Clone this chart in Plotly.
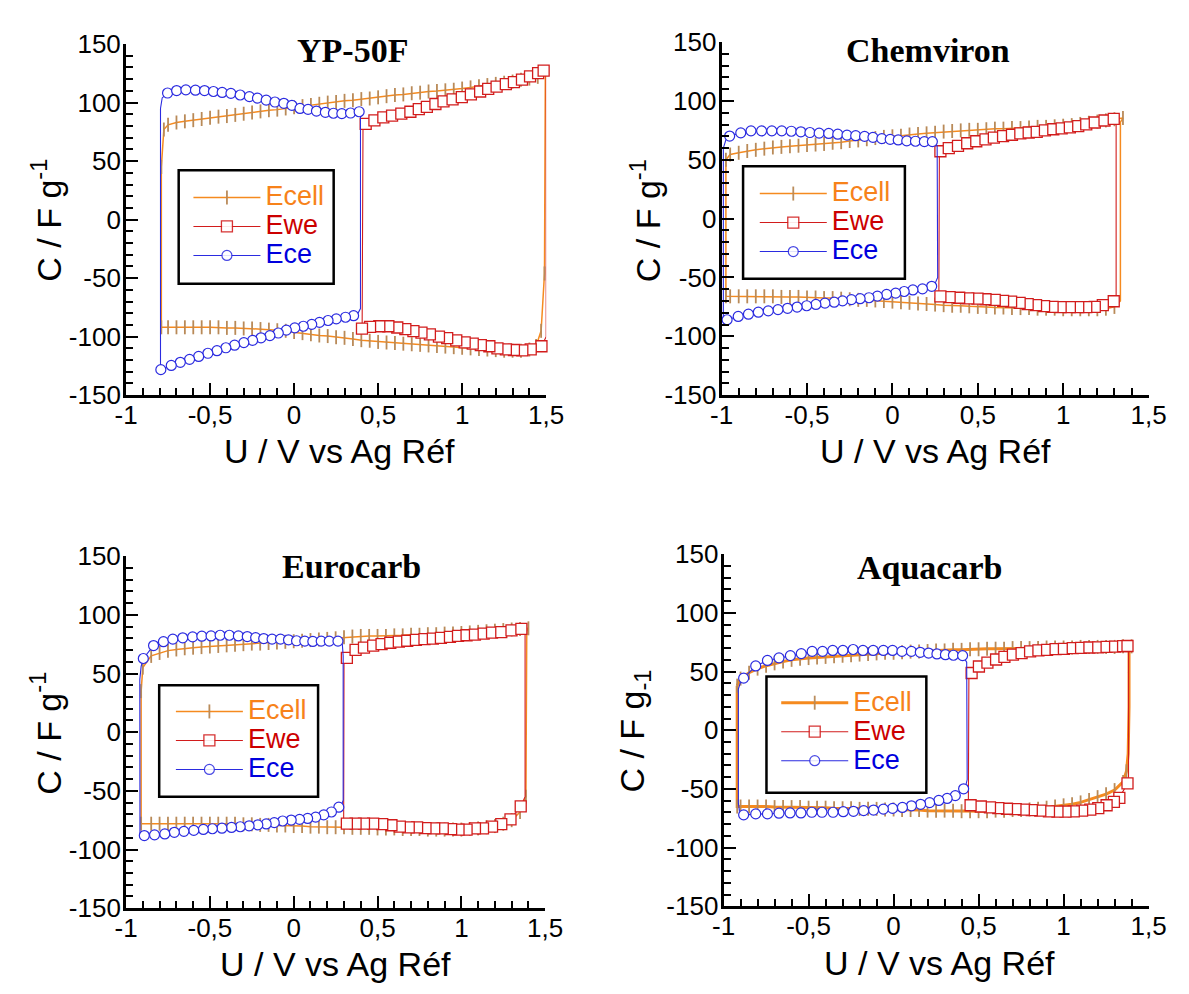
import plotly.graph_objects as go

W, H = 1189, 994
SANS = "Arial, Liberation Sans, sans-serif"
SERIF = "Times New Roman, Liberation Serif, serif"

# ---------------- labels ----------------
panel_titles = ["YP-50F", "Chemviron", "Eurocarb", "Aquacarb"]
series_names = ["Ecell", "Ewe", "Ece"]
x_tick_vals = [-1, -0.5, 0, 0.5, 1, 1.5]
x_tick_text = ["-1", "-0,5", "0", "0,5", "1", "1,5"]
y_tick_vals = [-150, -100, -50, 0, 50, 100, 150]
y_tick_text = ["-150", "-100", "-50", "0", "50", "100", "150"]
x_title = "U / V vs Ag Réf"
y_titles = ["C / F g<sup>-1</sup>", "C / F g<sup>-1</sup>", "C / F g<sup>-1</sup>", "C / F g<sub>-1</sub>"]

# ================= YP-50F =================
yp_ecell_up_x = [-0.79, -0.775, -0.75, -0.70, -0.65, -0.60, -0.55, -0.50, -0.45, -0.40, -0.35, -0.30, -0.25, -0.20, -0.15,
                 -0.10, -0.05, 0.00, 0.05, 0.10, 0.15, 0.20, 0.25, 0.30, 0.35, 0.40, 0.45, 0.50, 0.55, 0.60, 0.65,
                 0.70, 0.75, 0.80, 0.85, 0.90, 0.95, 1.00, 1.05, 1.10, 1.15, 1.20, 1.25, 1.30, 1.35, 1.40, 1.45]
yp_ecell_up_y = [45, 77, 81, 83, 84, 85, 86, 87, 88, 88.5, 89.5, 90.5, 91.5, 92.5, 93.5,
                 94, 95, 96, 97, 98, 99, 100, 100.5, 101.5, 102, 103, 103.5, 104.5, 105.5, 106.5, 107,
                 108, 108.5, 109.5, 110, 110.5, 111, 112, 113, 114, 115, 116, 117, 118, 119.5, 120.5, 122]
yp_ecell_r_x = [1.495]
yp_ecell_r_y = [124]
yp_ecell_dn_x = [-0.79, -0.75, -0.70, -0.65, -0.60, -0.55, -0.50, -0.45, -0.40, -0.35, -0.30, -0.25, -0.20, -0.15,
                 -0.10, -0.05, 0.00, 0.05, 0.10, 0.15, 0.20, 0.25, 0.30, 0.35, 0.40, 0.45, 0.50, 0.55, 0.60, 0.65,
                 0.70, 0.75, 0.80, 0.85, 0.90, 0.95, 1.00, 1.05, 1.10, 1.15, 1.20, 1.25, 1.30, 1.35, 1.40, 1.44, 1.47, 1.49]
yp_ecell_dn_y = [-92, -92, -92, -92, -92, -92, -92, -92, -92.5, -92.5, -93, -93, -93.5, -94,
                 -94.5, -95, -96, -97, -98, -99, -99.5, -100.5, -101, -102, -103, -103.5, -104.5, -105, -105.5, -106,
                 -106.5, -107, -107.5, -108, -108.5, -109, -109.5, -110, -110.5, -111, -111.5, -112, -112, -112, -111, -108, -95, -46]
yp_ecell_l_x = []
yp_ecell_l_y = []

yp_ewe_up_x = [0.426, 0.478, 0.531, 0.583, 0.638, 0.692, 0.742, 0.790, 0.841, 0.889, 0.943, 0.998, 1.052, 1.107,
               1.155, 1.205, 1.260, 1.308, 1.356, 1.404, 1.452, 1.485]
yp_ewe_up_y = [81.8, 84.8, 87.3, 88.9, 90.6, 92.2, 94.4, 96.3, 98.8, 101.0, 102.7, 104.6, 107.1, 109.5,
               111.7, 113.6, 115.8, 117.5, 119.7, 122.4, 125.2, 127.4]
yp_ewe_r_x = [1.50, 1.50]
yp_ewe_r_y = [124, -100]
yp_ewe_dn_x = [0.404, 0.452, 0.507, 0.561, 0.614, 0.662, 0.710, 0.758, 0.808, 0.862, 0.911, 0.965, 1.015, 1.063,
               1.111, 1.162, 1.210, 1.260, 1.308, 1.358, 1.408, 1.472]
yp_ewe_dn_y = [-93.1, -91.7, -91.1, -91.1, -92.2, -93.6, -95.3, -96.6, -98.0, -99.9, -101.3, -103.2, -104.9, -106.0,
               -107.3, -108.2, -110.1, -110.9, -111.4, -111.7, -110.9, -108.2]
yp_ewe_l_x = [0.405, 0.41]
yp_ewe_l_y = [-88, 78]

yp_ece_up_x = [-0.753, -0.699, -0.644, -0.587, -0.533, -0.480, -0.428, -0.376, -0.321, -0.266, -0.218, -0.166,
               -0.114, -0.061, -0.013, 0.035, 0.083, 0.133, 0.186, 0.234, 0.284, 0.336, 0.387]
yp_ece_up_y = [108.2, 110.3, 110.9, 110.6, 110.3, 109.5, 108.7, 107.9, 106.5, 105.1, 103.8, 102.1,
               100.5, 99.4, 97.7, 95.0, 94.2, 92.8, 91.7, 90.9, 90.6, 91.1, 92.2]
yp_ece_r_x = [0.395, 0.395, 0.38]
yp_ece_r_y = [88, -76, -80]
yp_ece_dn_x = [-0.793, -0.731, -0.677, -0.622, -0.568, -0.513, -0.459, -0.406, -0.354, -0.299, -0.247, -0.197,
               -0.144, -0.094, -0.046, 0.004, 0.055, 0.105, 0.151, 0.202, 0.251, 0.306, 0.354]
yp_ece_dn_y = [-128.2, -124.6, -121.9, -119.4, -116.9, -114.2, -112.0, -109.5, -107.3, -105.1, -103.2, -101.0,
               -99.1, -96.9, -94.4, -92.5, -91.1, -89.5, -87.8, -86.2, -84.8, -83.4, -82.1]
yp_ece_l_x = [-0.795, -0.795, -0.785]
yp_ece_l_y = [-124, 95, 104]

# ================= Chemviron =================
cv_ecell_up_x = [-0.975, -0.95, -0.90, -0.85, -0.80, -0.75, -0.70, -0.65, -0.60, -0.55, -0.50, -0.45, -0.40, -0.35,
                 -0.30, -0.25, -0.20, -0.15, -0.10, -0.05, 0.00, 0.05, 0.10, 0.15, 0.20, 0.25, 0.30, 0.35, 0.40,
                 0.45, 0.50, 0.55, 0.60, 0.65, 0.70, 0.75, 0.80, 0.85, 0.90, 0.95, 1.00, 1.05, 1.10, 1.15, 1.20,
                 1.25, 1.30, 1.35]
cv_ecell_up_y = [50, 54.5, 56, 57.5, 58.5, 59.5, 60.5, 61, 61.5, 62, 62.5, 63, 63.5, 64.5,
                 65, 66, 66.5, 67.5, 68.5, 69.5, 70, 70.5, 71.5, 72, 72.5, 73, 74, 74.5, 75,
                 75.5, 75.5, 76, 76.5, 76.5, 77, 77, 77.5, 78, 78, 78.5, 79, 79.5, 80.5, 81.5, 82.5,
                 83.5, 84.5, 85.5]
cv_ecell_r_x = [1.335, 1.335]
cv_ecell_r_y = [82, -70]
cv_ecell_dn_x = [-0.975, -0.95, -0.90, -0.85, -0.80, -0.75, -0.70, -0.65, -0.60, -0.55, -0.50, -0.45, -0.40, -0.35,
                 -0.30, -0.25, -0.20, -0.15, -0.10, -0.05, 0.00, 0.05, 0.10, 0.15, 0.20, 0.25, 0.30, 0.35, 0.40,
                 0.45, 0.50, 0.55, 0.60, 0.65, 0.70, 0.75, 0.80, 0.85, 0.90, 0.95, 1.00, 1.05, 1.10, 1.15, 1.20,
                 1.25, 1.30]
cv_ecell_dn_y = [-66, -66, -66, -66, -66, -66, -66, -66.5, -66.5, -66.5, -67, -67, -67.5, -67.5,
                 -68, -68.5, -69, -69, -69.5, -70, -70.5, -71, -71.5, -72, -72.5, -73, -73.5, -74, -74,
                 -74.5, -75, -75, -75.5, -75.5, -76, -76, -76, -76.5, -76.5, -76.5, -77, -77, -77, -77, -77,
                 -76.5, -75]
cv_ecell_l_x = []
cv_ecell_l_y = []

cv_ewe_up_x = [0.281, 0.330, 0.384, 0.438, 0.491, 0.545, 0.594, 0.648, 0.700, 0.749, 0.798, 0.845, 0.893, 0.942,
               0.991, 1.039, 1.088, 1.135, 1.185, 1.242, 1.296]
cv_ewe_up_y = [57.3, 60.0, 61.9, 64.1, 65.8, 67.4, 68.8, 70.2, 71.3, 72.4, 73.2, 73.8, 75.1, 76.0,
               76.8, 77.6, 78.7, 80.1, 81.7, 83.4, 84.8]
cv_ewe_r_x = [1.31, 1.31]
cv_ewe_r_y = [82, -67]
cv_ewe_dn_x = [0.281, 0.335, 0.391, 0.444, 0.498, 0.545, 0.599, 0.648, 0.695, 0.745, 0.792, 0.841, 0.888, 0.938,
               0.985, 1.039, 1.088, 1.135, 1.185, 1.232, 1.296]
cv_ewe_dn_y = [-66.1, -66.6, -67.2, -67.7, -68.0, -68.5, -69.1, -69.9, -70.5, -71.6, -72.7, -73.5, -74.3, -74.9,
               -75.1, -75.1, -75.1, -75.1, -74.9, -73.5, -70.2]
cv_ewe_l_x = [0.272, 0.275]
cv_ewe_l_y = [-62, 54]

cv_ece_up_x = [-0.953, -0.888, -0.828, -0.766, -0.706, -0.648, -0.592, -0.536, -0.483, -0.429, -0.373, -0.320,
               -0.266, -0.215, -0.163, -0.114, -0.062, -0.013, 0.034, 0.084, 0.135, 0.187, 0.234]
cv_ece_up_y = [70.2, 72.9, 74.6, 74.6, 74.6, 74.6, 74.3, 73.8, 73.2, 72.7, 72.4, 71.8,
               71.0, 70.5, 69.9, 69.1, 68.0, 67.4, 66.9, 66.1, 65.8, 65.5, 65.5]
cv_ece_r_x = [0.262, 0.265, 0.25]
cv_ece_r_y = [62, -50, -55]
cv_ece_dn_x = [-0.968, -0.903, -0.843, -0.785, -0.727, -0.670, -0.614, -0.558, -0.502, -0.448, -0.395, -0.341,
               -0.292, -0.240, -0.189, -0.137, -0.088, -0.034, 0.019, 0.069, 0.120, 0.176, 0.230]
cv_ece_dn_y = [-85.9, -83.1, -81.2, -79.5, -78.4, -77.3, -76.2, -75.1, -74.0, -72.9, -71.8, -71.0,
               -69.9, -68.8, -68.0, -67.2, -65.8, -64.4, -63.3, -61.9, -60.6, -59.7, -57.5]
cv_ece_l_x = [-0.99, -0.99, -0.975]
cv_ece_l_y = [-84, 60, 67]

# ================= Eurocarb =================
ec_ecell_up_x = [-0.91, -0.90, -0.85, -0.80, -0.75, -0.70, -0.65, -0.60, -0.55, -0.50, -0.45, -0.40, -0.35, -0.30,
                 -0.25, -0.20, -0.15, -0.10, -0.05, 0.00, 0.05, 0.10, 0.15, 0.20, 0.25, 0.30, 0.35, 0.40, 0.45,
                 0.50, 0.55, 0.60, 0.65, 0.70, 0.75, 0.80, 0.85, 0.90, 0.95, 1.00, 1.05, 1.10, 1.15, 1.20, 1.25,
                 1.30, 1.35, 1.40]
ec_ecell_up_y = [35, 55, 65, 67.5, 69.5, 70.5, 71.5, 72, 72.5, 73, 73.5, 74, 74.5, 75,
                 75.5, 75.5, 76, 76.5, 77, 77.5, 78, 78.5, 79, 79.5, 80, 81, 81.5, 82, 82,
                 82, 82, 82.5, 82.5, 83, 83, 83.5, 83.5, 84, 84, 84.5, 85, 85.5, 86, 86.5, 87,
                 87.5, 88, 88.5]
ec_ecell_r_x = [1.39]
ec_ecell_r_y = [86]
ec_ecell_dn_x = [-0.91, -0.85, -0.80, -0.75, -0.70, -0.65, -0.60, -0.55, -0.50, -0.45, -0.40, -0.35, -0.30,
                 -0.25, -0.20, -0.15, -0.10, -0.05, 0.00, 0.05, 0.10, 0.15, 0.20, 0.25, 0.30, 0.35, 0.40, 0.45,
                 0.50, 0.55, 0.60, 0.65, 0.70, 0.75, 0.80, 0.85, 0.90, 0.95, 1.00, 1.05, 1.10, 1.15, 1.20, 1.25,
                 1.30, 1.35, 1.385]
ec_ecell_dn_y = [-78, -78, -78, -78, -78, -78, -78, -78, -78, -78, -78, -78, -78.5,
                 -78.5, -79, -79, -79.5, -79.5, -80, -80, -80.5, -80.5, -81, -81, -81, -81.5, -81.5, -81.5,
                 -82, -82, -82, -82.5, -82.5, -82.5, -83, -83, -83, -83, -83, -82.5, -82, -81, -80, -78,
                 -75, -68, -55]
ec_ecell_l_x = []
ec_ecell_l_y = []

ec_ewe_up_x = [0.317, 0.369, 0.419, 0.474, 0.524, 0.576, 0.627, 0.677, 0.729, 0.780, 0.830, 0.878, 0.932, 0.980,
               1.031, 1.081, 1.133, 1.183, 1.238, 1.299, 1.358]
ec_ewe_up_y = [63.3, 70.2, 72.1, 73.8, 75.1, 76.2, 77.1, 77.9, 78.7, 79.3, 79.8, 80.4, 81.2, 82.0,
               82.6, 83.1, 84.0, 84.8, 85.3, 86.7, 88.1]
ec_ewe_r_x = [1.38, 1.38]
ec_ewe_r_y = [86, -55]
ec_ewe_dn_x = [0.317, 0.369, 0.419, 0.474, 0.528, 0.583, 0.633, 0.686, 0.736, 0.786, 0.838, 0.889, 0.939, 0.983,
               1.031, 1.081, 1.129, 1.183, 1.238, 1.293, 1.354]
ec_ewe_dn_y = [-77.9, -77.9, -77.9, -77.9, -78.4, -79.3, -80.4, -81.2, -81.2, -81.8, -82.0, -82.0, -82.6, -83.1,
               -83.1, -82.0, -82.0, -80.4, -78.4, -74.3, -63.3]
ec_ewe_l_x = [0.298, 0.30]
ec_ewe_l_y = [-75, 58]

ec_ece_up_x = [-0.897, -0.836, -0.777, -0.721, -0.662, -0.603, -0.548, -0.493, -0.439, -0.384, -0.330, -0.277,
               -0.227, -0.179, -0.129, -0.079, -0.031, 0.017, 0.066, 0.114, 0.164, 0.212, 0.264]
ec_ece_up_y = [62.8, 73.8, 77.1, 79.3, 80.4, 81.2, 81.8, 82.0, 82.6, 82.6, 82.0, 81.5,
               80.6, 79.8, 79.3, 79.3, 78.7, 77.9, 77.6, 77.3, 77.6, 77.6, 77.6]
ec_ece_r_x = [0.29, 0.295, 0.295, 0.285]
ec_ece_r_y = [75, 65, -58, -62]
ec_ece_dn_x = [-0.891, -0.830, -0.769, -0.712, -0.655, -0.596, -0.539, -0.485, -0.428, -0.371, -0.319, -0.266,
               -0.214, -0.164, -0.116, -0.066, -0.015, 0.035, 0.083, 0.131, 0.179, 0.225, 0.269]
ec_ece_dn_y = [-88.1, -87.5, -86.7, -85.3, -84.5, -83.7, -82.9, -82.3, -81.8, -81.2, -80.6, -79.8,
               -79.0, -78.2, -77.1, -75.7, -74.9, -74.3, -73.5, -72.4, -70.5, -68.0, -63.9]
ec_ece_l_x = [-0.917, -0.918, -0.91]
ec_ece_l_y = [-86, 45, 56]

# ================= Aquacarb =================
aq_ecell_up_x = [-0.92, -0.90, -0.85, -0.80, -0.75, -0.70, -0.65, -0.60, -0.55, -0.50, -0.45, -0.40, -0.35, -0.30,
                 -0.25, -0.20, -0.15, -0.10, -0.05, 0.00, 0.05, 0.10, 0.15, 0.20, 0.25, 0.30, 0.35, 0.40, 0.45,
                 0.50, 0.55, 0.60, 0.65, 0.70, 0.75, 0.80, 0.85, 0.90, 0.95, 1.00, 1.05, 1.10, 1.15, 1.20, 1.25,
                 1.30, 1.35, 1.40]
aq_ecell_up_y = [38, 44, 49, 52.5, 55, 57, 58.5, 60, 61, 61.5, 62, 62.5, 63, 63.5,
                 64, 64.5, 65, 65.5, 66, 66, 66.5, 67, 67, 67.5, 68, 68, 68.5, 68.5, 69,
                 69, 69.5, 69.5, 69.5, 70, 70, 70, 70, 70.5, 70.5, 70.5, 70.5, 71, 71, 71, 71,
                 71, 71.5, 71.5]
aq_ecell_r_x = [1.385, 1.385, 1.38]
aq_ecell_r_y = [70, 20, -20]
aq_ecell_dn_x = [-0.92, -0.90, -0.85, -0.80, -0.75, -0.70, -0.65, -0.60, -0.55, -0.50, -0.45, -0.40, -0.35, -0.30,
                 -0.25, -0.20, -0.15, -0.10, -0.05, 0.00, 0.05, 0.10, 0.15, 0.20, 0.25, 0.30, 0.35, 0.40, 0.45,
                 0.50, 0.55, 0.60, 0.65, 0.70, 0.75, 0.80, 0.85, 0.90, 0.95, 1.00, 1.05, 1.10, 1.15, 1.20, 1.25,
                 1.30, 1.35, 1.37]
aq_ecell_dn_y = [-65, -65, -65, -65, -65, -65.5, -65.5, -65.5, -65.5, -66, -66, -66, -66.5, -66.5,
                 -66.5, -67, -67, -67, -67.5, -67.5, -68, -68, -68, -68.5, -68.5, -68.5, -68.5, -69, -69,
                 -69, -69, -68.5, -68.5, -68, -68, -67.5, -67, -66, -65, -64, -63, -61.5, -59.5, -57, -54.5,
                 -51, -44, -35]
aq_ecell_l_x = []
aq_ecell_l_y = []

aq_ewe_up_x = [0.459, 0.502, 0.552, 0.603, 0.652, 0.702, 0.753, 0.803, 0.852, 0.903, 0.953, 1.002, 1.054, 1.103,
               1.152, 1.204, 1.253, 1.303, 1.350, 1.376]
aq_ewe_up_y = [48.8, 54.3, 57.6, 60.3, 62.5, 64.4, 65.8, 67.2, 68.0, 68.5, 69.1, 69.4, 69.9, 70.2,
               70.5, 70.7, 71.0, 71.3, 71.6, 71.8]
aq_ewe_r_x = [1.382, 1.382]
aq_ewe_r_y = [69, -40]
aq_ewe_dn_x = [0.453, 0.513, 0.567, 0.616, 0.667, 0.717, 0.766, 0.813, 0.863, 0.914, 0.964, 1.011, 1.060, 1.109,
               1.157, 1.204, 1.253, 1.296, 1.328, 1.376]
aq_ewe_dn_y = [-63.9, -65.0, -65.8, -66.4, -66.9, -67.2, -67.7, -68.0, -68.5, -69.1, -69.4, -69.4, -69.1, -68.5,
               -67.7, -66.4, -63.9, -61.1, -57.6, -45.2]
aq_ewe_l_x = [0.44, 0.443]
aq_ewe_l_y = [-60, 44]

aq_ece_up_x = [-0.882, -0.811, -0.742, -0.674, -0.607, -0.543, -0.479, -0.418, -0.358, -0.298, -0.238, -0.180,
               -0.120, -0.060, -0.006, 0.049, 0.105, 0.157, 0.206, 0.255, 0.305, 0.352, 0.406]
aq_ece_up_y = [44.4, 54.8, 59.5, 61.7, 63.6, 65.3, 67.2, 67.2, 68.0, 68.0, 68.8, 68.0,
               68.0, 68.0, 68.0, 67.2, 67.2, 66.4, 65.8, 65.0, 64.4, 63.9, 63.6]
aq_ece_r_x = [0.43, 0.433, 0.425]
aq_ece_r_y = [58, -42, -47]
aq_ece_dn_x = [-0.882, -0.811, -0.742, -0.674, -0.609, -0.545, -0.481, -0.421, -0.356, -0.296, -0.236, -0.176,
               -0.118, -0.060, -0.006, 0.052, 0.105, 0.159, 0.212, 0.266, 0.315, 0.363, 0.412]
aq_ece_dn_y = [-72.1, -71.3, -71.3, -70.7, -70.5, -70.5, -69.9, -69.9, -69.9, -69.4, -69.1, -68.5,
               -68.0, -67.2, -66.6, -65.8, -64.4, -63.1, -61.7, -59.8, -58.1, -55.7, -49.9]
aq_ece_l_x = [-0.905, -0.913, -0.913, -0.90]
aq_ece_l_y = [-71, -62, 35, 41]

panel_series = [
    [(yp_ecell_up_x, yp_ecell_up_y, yp_ecell_r_x, yp_ecell_r_y, yp_ecell_dn_x, yp_ecell_dn_y, yp_ecell_l_x, yp_ecell_l_y),
     (yp_ewe_up_x, yp_ewe_up_y, yp_ewe_r_x, yp_ewe_r_y, yp_ewe_dn_x, yp_ewe_dn_y, yp_ewe_l_x, yp_ewe_l_y),
     (yp_ece_up_x, yp_ece_up_y, yp_ece_r_x, yp_ece_r_y, yp_ece_dn_x, yp_ece_dn_y, yp_ece_l_x, yp_ece_l_y)],
    [(cv_ecell_up_x, cv_ecell_up_y, cv_ecell_r_x, cv_ecell_r_y, cv_ecell_dn_x, cv_ecell_dn_y, cv_ecell_l_x, cv_ecell_l_y),
     (cv_ewe_up_x, cv_ewe_up_y, cv_ewe_r_x, cv_ewe_r_y, cv_ewe_dn_x, cv_ewe_dn_y, cv_ewe_l_x, cv_ewe_l_y),
     (cv_ece_up_x, cv_ece_up_y, cv_ece_r_x, cv_ece_r_y, cv_ece_dn_x, cv_ece_dn_y, cv_ece_l_x, cv_ece_l_y)],
    [(ec_ecell_up_x, ec_ecell_up_y, ec_ecell_r_x, ec_ecell_r_y, ec_ecell_dn_x, ec_ecell_dn_y, ec_ecell_l_x, ec_ecell_l_y),
     (ec_ewe_up_x, ec_ewe_up_y, ec_ewe_r_x, ec_ewe_r_y, ec_ewe_dn_x, ec_ewe_dn_y, ec_ewe_l_x, ec_ewe_l_y),
     (ec_ece_up_x, ec_ece_up_y, ec_ece_r_x, ec_ece_r_y, ec_ece_dn_x, ec_ece_dn_y, ec_ece_l_x, ec_ece_l_y)],
    [(aq_ecell_up_x, aq_ecell_up_y, aq_ecell_r_x, aq_ecell_r_y, aq_ecell_dn_x, aq_ecell_dn_y, aq_ecell_l_x, aq_ecell_l_y),
     (aq_ewe_up_x, aq_ewe_up_y, aq_ewe_r_x, aq_ewe_r_y, aq_ewe_dn_x, aq_ewe_dn_y, aq_ewe_l_x, aq_ewe_l_y),
     (aq_ece_up_x, aq_ece_up_y, aq_ece_r_x, aq_ece_r_y, aq_ece_dn_x, aq_ece_dn_y, aq_ece_l_x, aq_ece_l_y)],
]

# ---------------- styles / layout geometry (window pixels) ----------------
ORANGE = "#F58A1F"
TAN = "#B98A58"
RED = "#D21C1C"
BLUE = "#2B2BE0"
TEXT_COLORS = ["#F7821A", "#CC0000", "#0000DD"]

# plot boxes: left, right, top, bottom
boxes = [(117, 548, 30, 392), (728, 1166, 28, 392), (117, 547, 558, 921), (730, 1166, 556, 919)]
title_pos = [(349, 37), (940, 37), (348, 569), (941, 570)]
xtitle_pos = [(336, 450), (947, 450), (332, 979), (952, 977)]
ytitle_pos = [(35, 212), (650, 212), (35, 741), (639, 738)]
legend_box = [(171, 330, 160, 277), (750, 916, 156, 272), (151, 314, 691, 806), (774, 938, 682, 802)]
legend_first_row = [(186, 190), (767, 186), (168, 720), (789, 711)]
ecell_width = [1.5, 1.5, 1.5, 3.0]


def px(x):
    return x / W


def py(y):
    return 1 - y / H


def loop_path(up_x, up_y, r_x, r_y, dn_x, dn_y, l_x, l_y):
    """Closed loop: upper branch, right edge, lower branch (reversed), left edge.
    Returns x, y and a per-point marker opacity (markers only on the branch samples)."""
    xs = list(up_x) + list(r_x) + list(dn_x)[::-1] + list(l_x) + list(up_x[:1])
    ys = list(up_y) + list(r_y) + list(dn_y)[::-1] + list(l_y) + list(up_y[:1])
    vis = [1] * len(up_x) + [0] * len(r_x) + [1] * len(dn_x) + [0] * len(l_x) + [0]
    return xs, ys, vis


fig = go.Figure()
annotations = []
shapes = []
layout_extra = {}

for p in range(4):
    suffix = "" if p == 0 else str(p + 1)
    xa, ya = "x" + suffix, "y" + suffix
    legend_id = "legend" + suffix
    for s, data in enumerate(panel_series[p]):
        if s == 0:
            marker = dict(symbol="line-ns", size=10, color=TAN, line=dict(color=TAN, width=1.8))
            line = dict(color=ORANGE, width=ecell_width[p])
        elif s == 1:
            marker = dict(symbol="square", size=11, color="white", line=dict(color=RED, width=1.3))
            line = dict(color=RED, width=1.1)
        else:
            marker = dict(symbol="circle", size=10, color="white", line=dict(color=BLUE, width=1.2))
            line = dict(color=BLUE, width=1.1)
        xs, ys, vis = loop_path(*data)
        marker["opacity"] = vis
        fig.add_trace(go.Scatter(
            x=xs, y=ys, mode="lines+markers", xaxis=xa, yaxis=ya,
            name=f'<span style="color:{TEXT_COLORS[s]};font-size:27px">{series_names[s]}</span>',
            line=line, marker=marker, cliponaxis=False, legend=legend_id,
        ))

    l, r, t, b = boxes[p]
    axis_common = dict(showline=True, linecolor="black", linewidth=3, mirror=False, showgrid=False,
                       zeroline=False, ticks="inside", ticklen=12, tickwidth=2, tickcolor="black",
                       tickfont=dict(family=SANS, size=26, color="black"))
    layout_extra["xaxis" + suffix] = dict(
        axis_common, domain=[px(l), px(r)], range=[-1, 1.5], anchor=ya,
        tickmode="array", tickvals=x_tick_vals, ticktext=x_tick_text, ticklabelstandoff=-5,
        minor=dict(ticks="inside", ticklen=7, tickwidth=2, tickcolor="black", tick0=-1, dtick=0.1))
    layout_extra["yaxis" + suffix] = dict(
        axis_common, domain=[py(b), py(t)], range=[-150, 150], anchor=xa,
        tickmode="array", tickvals=y_tick_vals, ticktext=y_tick_text, ticklabelstandoff=-3,
        minor=dict(ticks="inside", ticklen=7, tickwidth=2, tickcolor="black", tick0=-150, dtick=10))

    lx, ly = legend_first_row[p]
    layout_extra[legend_id] = dict(
        x=px(lx - 5), y=py(ly - 22), xanchor="left", yanchor="top", bgcolor="rgba(0,0,0,0)",
        borderwidth=0, font=dict(family=SANS, size=20), itemwidth=67, traceorder="normal",
        tracegroupgap=0)

    bx0, bx1, by0, by1 = legend_box[p]
    shapes.append(dict(type="rect", xref="paper", yref="paper", x0=px(bx0), x1=px(bx1), y0=py(by1), y1=py(by0),
                       line=dict(color="black", width=2.5), fillcolor="rgba(0,0,0,0)"))

    tx, ty = title_pos[p]
    annotations.append(dict(text=f"<b>{panel_titles[p]}</b>", x=px(tx), y=py(ty), xref="paper", yref="paper",
                            xanchor="center", yanchor="middle", showarrow=False,
                            font=dict(family=SERIF, size=34, color="black")))
    xx, xy = xtitle_pos[p]
    annotations.append(dict(text=x_title, x=px(xx), y=py(xy), xref="paper", yref="paper",
                            xanchor="center", yanchor="middle", showarrow=False,
                            font=dict(family=SANS, size=34, color="black")))
    yx, yy = ytitle_pos[p]
    annotations.append(dict(text=y_titles[p], x=px(yx), y=py(yy), xref="paper", yref="paper",
                            xanchor="center", yanchor="middle", showarrow=False, textangle=-90,
                            font=dict(family=SANS, size=34, color="black")))

fig.update_layout(
    width=W, height=H, margin=dict(l=0, r=0, t=0, b=0),
    paper_bgcolor="white", plot_bgcolor="white",
    font=dict(family=SANS, color="black"),
    annotations=annotations, shapes=shapes, **layout_extra,
)

fig.write_html("out.html", config={"displayModeBar": False},
               post_script="document.body.style.margin='0';document.body.style.overflow='hidden';")
